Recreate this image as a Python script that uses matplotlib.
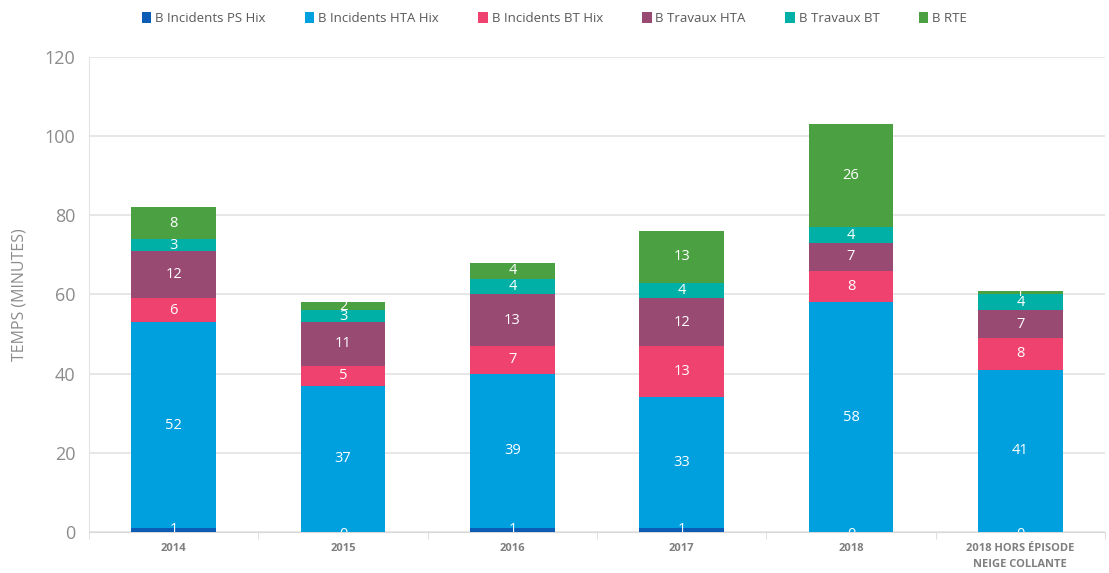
import matplotlib
matplotlib.use('Agg')
import matplotlib.pyplot as plt
import numpy as np

# ================= 数据 =================
categories = ['2014', '2015', '2016', '2017', '2018', '2018 HORS ÉPISODE\nNEIGE COLLANTE']
series_names = ['B Incidents PS Hix', 'B Incidents HTA Hix', 'B Incidents BT Hix',
                'B Travaux HTA', 'B Travaux BT', 'B RTE']

incidents_ps = [1, 0, 1, 1, 0, 0]
incidents_hta = [52, 37, 39, 33, 58, 41]
incidents_bt = [6, 5, 7, 13, 8, 8]
travaux_hta = [12, 11, 13, 12, 7, 7]
travaux_bt = [3, 3, 4, 4, 4, 4]
rte = [8, 2, 4, 13, 26, 1]

colors = ['#0B5CB5', '#00A0DF', '#EF426F', '#984A73', '#00AFA5', '#4BA142']

if __name__ == '__main__':
    plt.rcParams['font.family'] = ['Open Sans', 'DejaVu Sans']

    fig = plt.figure(figsize=(11.09, 5.73), dpi=100)
    ax = fig.add_axes([0.0803, 0.0716, 0.9161, 0.8289])

    data = [incidents_ps, incidents_hta, incidents_bt, travaux_hta, travaux_bt, rte]
    x = np.arange(len(categories))
    bottom = np.zeros(len(categories))

    ax.grid(axis='y', color='#E3E3E3', linewidth=1.2, zorder=0)
    for name, vals, c in zip(series_names, data, colors):
        vals = np.array(vals, dtype=float)
        ax.bar(x, vals, 0.5, bottom=bottom, color=c, label=name, zorder=3)
        for xi, b, v in zip(x, bottom, vals):
            # 零值标签放在轴线上，被坐标区裁掉一半
            yy = b + v / 2 if v > 0 else -0.6
            ax.text(xi, yy, f'{int(v)}', ha='center', va='center',
                    color='white', fontsize=10.5, zorder=4, clip_on=True)
        bottom += vals

    ax.set_xlim(-0.5, len(categories) - 0.5)
    ax.set_ylim(0, 120)
    ax.set_yticks(np.arange(0, 121, 20))
    ax.tick_params(axis='y', length=0, labelsize=13, labelcolor='#8C8C8C', pad=10)

    ax.set_xticks(x)
    ax.set_xticklabels(categories, fontsize=8, fontweight='bold', color='#7F7F7F',
                       linespacing=1.6)
    ax.set_xticks(np.arange(-0.5, len(categories), 1), minor=True)
    ax.tick_params(axis='x', which='major', length=0, pad=8)
    ax.tick_params(axis='x', which='minor', length=5, color='#D9D9D9')

    for s in ['top', 'right']:
        ax.spines[s].set_visible(False)
    ax.spines['left'].set_color('#E3E3E3')
    ax.spines['bottom'].set_color('#D9D9D9')

    ax.set_ylabel('TEMPS (MINUTES)', fontsize=11.5, color='#8C8C8C', labelpad=12)

    fig.legend(loc='upper center', bbox_to_anchor=(0.5, 1.0), ncol=6, frameon=False,
               fontsize=9.5, handlelength=0.7, handleheight=0.9, handletextpad=0.3,
               columnspacing=3.0, labelcolor='#595959')

    plt.savefig('out.png', dpi=100)
